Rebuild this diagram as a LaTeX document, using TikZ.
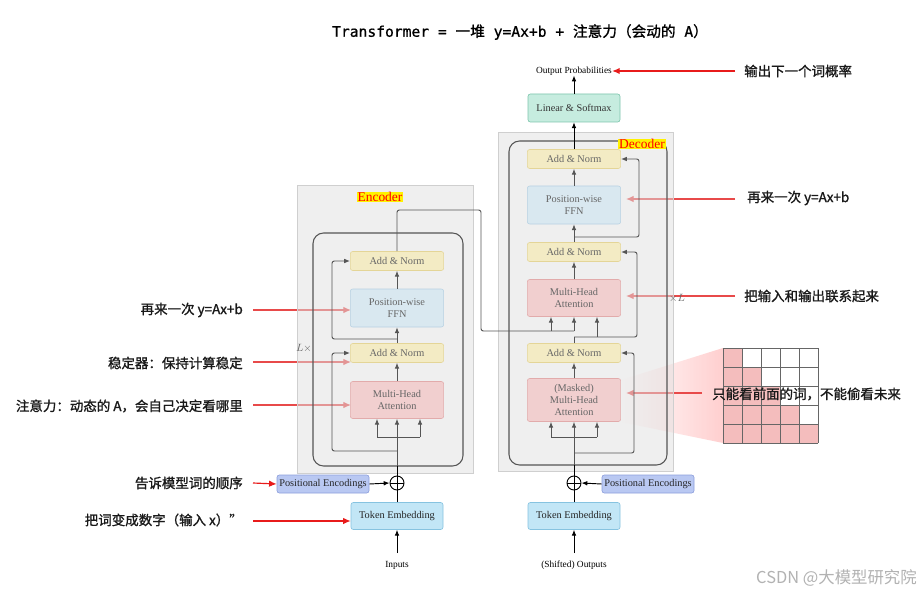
\documentclass[tikz,border=0pt]{standalone}
\usepackage{fontspec}
\setmainfont{Liberation Serif}
\newfontfamily\cjk{Noto Sans CJK SC}[FakeBold=1.2]
\newfontfamily\cjkplain{Noto Sans CJK SC}
\newfontfamily\monof{DejaVu Sans Mono}[FakeBold=0.8]
\usetikzlibrary{arrows.meta}
\definecolor{anfill}{HTML}{F3EBC4}
\definecolor{andraw}{HTML}{E4D597}
\definecolor{fffill}{HTML}{D9E8F0}
\definecolor{ffdraw}{HTML}{B7D1E2}
\definecolor{mhfill}{HTML}{F1CFCF}
\definecolor{mhdraw}{HTML}{E2ABAB}
\definecolor{lsfill}{HTML}{C6ECDF}
\definecolor{lsdraw}{HTML}{7FC6AE}
\definecolor{pefill}{HTML}{B9C8F2}
\definecolor{pedraw}{HTML}{8D9FDC}
\definecolor{tkfill}{HTML}{C2E6F6}
\definecolor{tkdraw}{HTML}{86C3E0}
\definecolor{boxgray}{HTML}{E0E0E0}
\definecolor{boxedge}{HTML}{CFCFCF}
\definecolor{lightred}{HTML}{E84A4A}
\definecolor{brightred}{HTML}{E81B1B}
\definecolor{gridpink}{HTML}{F4BDBD}
\definecolor{intext}{HTML}{666666}
\definecolor{lineg}{HTML}{555555}
\newcommand\myboxfont{\fontsize{8.8pt}{10.3pt}\selectfont}
\newcommand\mylabfont{\cjk\fontsize{11.5pt}{13pt}\selectfont}
\begin{document}
\begin{tikzpicture}[x=0.03cm,y=-0.03cm,
  blk/.style={draw,rounded corners=2pt,inner sep=0pt,align=center,font=\myboxfont,text=intext,line width=0.5pt},
  addn/.style={blk,fill=anfill,draw=andraw,minimum width=2.8cm,minimum height=0.57cm},
  ffnb/.style={blk,fill=fffill,draw=ffdraw,minimum width=2.8cm,minimum height=1.14cm},
  mhab/.style={blk,fill=mhfill,draw=mhdraw,minimum width=2.8cm,minimum height=1.11cm},
  gline/.style={draw=lineg,line width=0.8pt,rounded corners=2pt},
  garr/.style={gline,-{Latex[length=5pt,width=4pt]}},
  barr/.style={draw=black,line width=0.8pt,-{Latex[length=5pt,width=4pt]}},
  bline/.style={draw=black,line width=0.8pt},
  rarr/.style={draw=lightred,line width=1pt,-{Latex[length=6.5pt,width=5.5pt]}},
  brarr/.style={draw=brightred,line width=1pt,-{Latex[length=6.5pt,width=5.5pt]}},
  lab/.style={font=\mylabfont,text=black!90,inner sep=0pt},
  plainlab/.style={font=\fontsize{8pt}{9.5pt}\selectfont,inner sep=0pt},
  oplus/.style={circle,draw=black,line width=0.8pt,minimum size=0.42cm,inner sep=0pt,
    path picture={\draw[line width=0.8pt] (path picture bounding box.north) -- (path picture bounding box.south)
      (path picture bounding box.west) -- (path picture bounding box.east);}}
]
\useasboundingbox (0,0) rectangle (920,594);
\fill[white] (0,0) rectangle (920,594);

% title
\node[inner sep=0pt] (title) at (520,32) {\fontsize{12.5pt}{14pt}\selectfont\monof Transformer = {\cjk 一堆} y=Ax+b + {\cjk 注意力（会动的} A{\cjk ）}};

% pink wedge toward mask
\shade[left color=white, right color=red!25, opacity=0.75] (621,380) -- (723,348) -- (723,443) -- (621,422) -- cycle;

% red annotation arrows (drawn beneath the boxes)
\coordinate (la1) at (253,310);
\coordinate (la2) at (253,362);
\coordinate (la3) at (253,405);
\coordinate (la4) at (253,483);
\coordinate (la5) at (253,521);
\coordinate (ra0) at (735,71);
\coordinate (ra1) at (735,199);
\coordinate (ra2) at (735,296);
\coordinate (ra3) at (702,393);
\coordinate (ta1) at (351,310);
\coordinate (ta2) at (351,362);
\coordinate (ta3) at (351,405);
\coordinate (tb1) at (626,199);
\coordinate (tb2) at (626,296);
\coordinate (tb3) at (626,393);
\draw[rarr] (la1) -- (ta1);
\draw[rarr] (la2) -- (ta2);
\draw[rarr] (la3) -- (ta3);
\draw[rarr] (ra1) -- (tb1);
\draw[rarr] (ra2) -- (tb2);
\draw[rarr] (ra3) -- (tb3);

% gray boxes (translucent overlay)
\draw[fill=boxgray,fill opacity=0.5,draw=boxedge,line width=0.8pt] (297,185) rectangle (473,473);
\draw[fill=boxgray,fill opacity=0.5,draw=boxedge,line width=0.8pt] (498,132) rectangle (673,471);
\draw[draw=lineg,line width=0.9pt,rounded corners=9pt] (313,233) rectangle (463,466);
\draw[draw=lineg,line width=0.9pt,rounded corners=9pt] (509,141) rectangle (667,465);

\node[fill=yellow,text=red,inner sep=0.6pt,font=\fontsize{11.5pt}{12pt}\selectfont] (enclab) at (380,197) {Encoder};
\node[fill=yellow,text=red,inner sep=0.6pt,font=\fontsize{11.5pt}{12pt}\selectfont] (declab) at (642,144) {Decoder};
\node[inner sep=0pt,text=intext,font=\fontsize{9pt}{10pt}\selectfont] (encL) at (304,348) {$L\times$};
\node[inner sep=0pt,text=intext,font=\fontsize{9pt}{10pt}\selectfont] (decL) at (677,298) {$\times L$};

% encoder blocks
\node[addn] (ean2) at (397,261) {Add \& Norm};
\node[ffnb] (effn) at (397,308) {Position-wise\\FFN};
\node[addn] (ean1) at (397,353) {Add \& Norm};
\node[mhab] (emha) at (397,400) {Multi-Head\\Attention};

% decoder blocks
\node[addn] (dan3) at (574,159) {Add \& Norm};
\node[ffnb] (dffn) at (574,205) {Position-wise\\FFN};
\node[addn] (dan2) at (574,252) {Add \& Norm};
\node[mhab] (dmha) at (574,298) {Multi-Head\\Attention};
\node[addn] (dan1) at (574,353) {Add \& Norm};
\node[mhab,minimum height=1.29cm] (dmmha) at (574,400) {(Masked)\\Multi-Head\\Attention};

\node[blk,fill=lsfill,draw=lsdraw,text=black!80,minimum width=2.76cm,minimum height=0.84cm] (lin) at (574,108) {Linear \& Softmax};
\node[plainlab] (outp) at (574,71) {Output Probabilities};

% bottom blocks
\node[blk,fill=pefill,draw=pedraw,text=black!85,minimum width=2.76cm,minimum height=0.54cm] (epe) at (323,484) {Positional Encodings};
\node[oplus] (eplus) at (397,483) {};
\node[blk,fill=tkfill,draw=tkdraw,text=black!85,minimum width=2.76cm,minimum height=0.81cm] (etok) at (397,516) {Token Embedding};
\node[plainlab] (einp) at (397,565) {Inputs};
\coordinate (einb) at (397,553);

\node[blk,fill=pefill,draw=pedraw,text=black!85,minimum width=2.76cm,minimum height=0.54cm] (dpe) at (648,484) {Positional Encodings};
\node[oplus] (dplus) at (574,483) {};
\node[blk,fill=tkfill,draw=tkdraw,text=black!85,minimum width=2.76cm,minimum height=0.81cm] (dtok) at (574,516) {Token Embedding};
\node[plainlab] (dinp) at (574,565) {(Shifted) Outputs};
\coordinate (dinb) at (574,553);

% encoder connectors
\draw[barr] (einb) -- (etok.south);
\draw[bline] (etok.north) -- (eplus.south);
\draw[barr] (epe.east) -- (eplus.west);
\coordinate (etop) at (397,466);
\draw[bline] (eplus.north) -- (etop);
\coordinate (ebL) at (377,437);
\coordinate (ebR) at (420,437);
\draw[garr] (etop) -- (emha.south);
\draw[gline] (ebL) -- (ebR);
\draw[garr] (ebL) -- (ebL |- emha.south);
\draw[garr] (ebR) -- (ebR |- emha.south);
\coordinate (er1) at (397,451);
\coordinate (er1c) at (332,451);
\draw[garr] (er1) -- (er1c) |- (ean1.west);
\draw[garr] (emha.north) -- (ean1.south);
\draw[garr] (ean1.north) -- (effn.south);
\coordinate (er2) at (397,339);
\coordinate (er2c) at (332,339);
\draw[garr] (er2) -- (er2c) |- (ean2.west);
\draw[garr] (effn.north) -- (ean2.south);

% encoder output to decoder cross-attention
\coordinate (eo1) at (481,210);
\coordinate (eo2) at (574,331);
\coordinate (kx) at (551,331);
\draw[gline] (ean2.north) |- (eo1) |- (eo2);
\draw[garr] (kx) -- (kx |- dmha.south);
\draw[garr] (eo2) -- (eo2 |- dmha.south);

% decoder connectors
\draw[barr] (dinb) -- (dtok.south);
\draw[bline] (dtok.north) -- (dplus.south);
\draw[barr] (dpe.west) -- (dplus.east);
\coordinate (dtop) at (574,465);
\draw[bline] (dplus.north) -- (dtop);
\coordinate (dbL) at (551,437);
\coordinate (dbR) at (597,437);
\draw[garr] (dtop) -- (dmmha.south);
\draw[gline] (dbL) -- (dbR);
\draw[garr] (dbL) -- (dbL |- dmmha.south);
\draw[garr] (dbR) -- (dbR |- dmmha.south);
\coordinate (dr1) at (574,453);
\coordinate (dr1c) at (634,453);
\draw[garr] (dr1) -- (dr1c) |- (dan1.east);
\draw[garr] (dmmha.north) -- (dan1.south);
\coordinate (dq) at (574,337);
\coordinate (dqc) at (637,337);
\coordinate (qx) at (597,337);
\draw[gline] (dan1.north) -- (dq);
\draw[garr] (dq) -- (dqc) |- (dan2.east);
\draw[garr] (qx) -- (qx |- dmha.south);
\draw[garr] (dmha.north) -- (dan2.south);
\draw[garr] (dan2.north) -- (dffn.south);
\coordinate (dr3) at (574,237);
\coordinate (dr3c) at (639,237);
\draw[garr] (dr3) -- (dr3c) |- (dan3.east);
\draw[garr] (dffn.north) -- (dan3.south);
\draw[barr] (dan3.north) -- (lin.south);
\draw[barr] (lin.north) -- (outp.south);

% bright red arrows (outside boxes)
\draw[brarr] (ra0) -- (outp.east);
\draw[brarr] (la4) -- (epe.west);
\draw[brarr] (la5) -- (la5 -| etok.west);

% mask grid
\foreach \r in {0,...,4}{
  \foreach \c in {0,...,\r}{
    \fill[gridpink] ({723+19*\c},{348+19*\r}) rectangle ++(19,19);
  }
}
\foreach \i in {0,...,5}{
  \draw[black!60,line width=0.5pt] ({723+19*\i},348) -- ({723+19*\i},443);
  \draw[black!60,line width=0.5pt] (723,{348+19*\i}) -- (818,{348+19*\i});
}

% labels
\node[lab,anchor=east] (l1) at (243,310) {再来一次 y=Ax+b};
\node[lab,anchor=east] (l2) at (243,363) {稳定器：保持计算稳定};
\node[lab,anchor=east] (l3) at (243,406) {注意力：动态的 A，会自己决定看哪里};
\node[lab,anchor=east] (l4) at (243,483) {告诉模型词的顺序};
\node[lab,anchor=east] (l5) at (243,520) {把词变成数字（输入 x）”};
\node[lab,anchor=west] (r0) at (744,71) {输出下一个词概率};
\node[lab,anchor=west] (r1) at (747,198) {再来一次 y=Ax+b};
\node[lab,anchor=west] (r2) at (744,296) {把输入和输出联系起来};
\node[lab,anchor=west] (r3) at (712,394) {只能看前面的词，不能偷看未来};

% watermark
\node[inner sep=0pt,anchor=east,text=black!30,font=\cjkplain\fontsize{14pt}{15pt}\selectfont] (wm) at (917,578) {CSDN @大模型研究院};
\end{tikzpicture}
\end{document}
